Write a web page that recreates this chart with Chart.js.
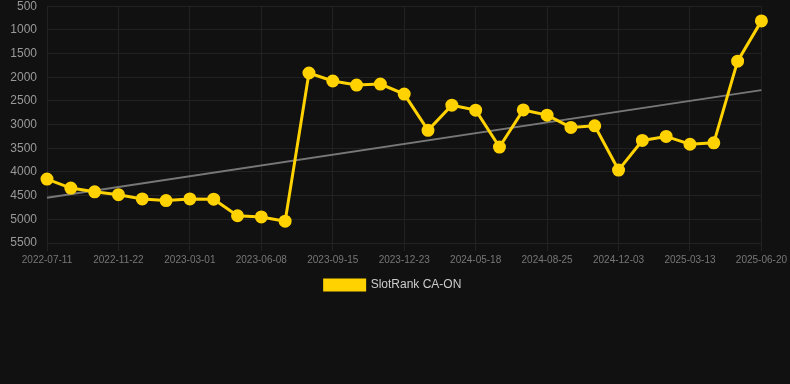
<!DOCTYPE html>
<html>
<head>
<meta charset="utf-8">
<script src="https://cdn.jsdelivr.net/npm/chart.js@4"></script>
<style>
  html, body { margin: 0; padding: 0; background: #111111; overflow: hidden; }
  #wrap { width: 790px; height: 312px; position: relative; top: -11px; }
</style>
</head>
<body>
<div id="wrap"><canvas id="c"></canvas></div>
<script>
const categories = [
  '2022-07-11','2022-08-24','2022-10-08','2022-11-22','2022-12-25','2023-01-27',
  '2023-03-01','2023-04-03','2023-05-06','2023-06-08','2023-07-11','2023-08-13',
  '2023-09-15','2023-10-18','2023-11-20','2023-12-23','2024-02-07','2024-04-02',
  '2024-05-18','2024-06-21','2024-07-23','2024-08-25','2024-09-27','2024-10-31',
  '2024-12-03','2025-01-05','2025-02-08','2025-03-13','2025-04-15','2025-05-18',
  '2025-06-20'
];
const rankValues = [
  4150, 4340, 4420, 4480, 4570, 4605, 4570, 4575, 4925, 4950, 5040,
  1910, 2080, 2165, 2145, 2355, 3120, 2590, 2695, 3475, 2690,
  2800, 3060, 3025, 3960, 3335, 3250, 3415, 3385, 1660, 810
];
const trendEnds = [4545, 2272];
const yTicks = [500, 1000, 1500, 2000, 2500, 3000, 3500, 4000, 4500, 5000, 5500];
const seriesName = 'SlotRank CA-ON';

const trendData = categories.map((_, i) =>
  i === 0 ? trendEnds[0] : (i === categories.length - 1 ? trendEnds[1] : null));

new Chart(document.getElementById('c'), {
  type: 'line',
  data: {
    labels: categories,
    datasets: [
      {
        label: seriesName,
        data: rankValues,
        borderColor: '#FFD200',
        backgroundColor: '#FFD200',
        borderWidth: 3,
        pointRadius: 5,
        pointHoverRadius: 6,
        pointBackgroundColor: '#FFD200',
        pointBorderColor: '#FFD200',
        tension: 0
      },
      {
        label: 'trend',
        data: trendData,
        borderColor: '#777777',
        borderWidth: 2,
        pointRadius: 0,
        spanGaps: true,
        tension: 0
      }
    ]
  },
  options: {
    responsive: true,
    maintainAspectRatio: false,
    animation: false,
    layout: { padding: { left: 0, right: 4, top: 0, bottom: 0 } },
    plugins: {
      legend: {
        position: 'bottom',
        labels: {
          color: '#cccccc',
          font: { family: 'Liberation Sans, Arial, sans-serif', size: 12 },
          boxWidth: 40,
          boxHeight: 10,
          filter: (item) => item.text !== 'trend'
        }
      },
      tooltip: { enabled: false }
    },
    scales: {
      x: {
        offset: false,
        grid: { color: '#222222', drawTicks: true, tickLength: 8 },
        border: { color: '#222222' },
        ticks: {
          autoSkip: false,
          maxRotation: 0,
          color: '#777777',
          font: { family: 'Liberation Sans, Arial, sans-serif', size: 10 },
          callback: function(value, index) {
            return index % 3 === 0 ? categories[index] : null;
          }
        }
      },
      y: {
        reverse: true,
        min: 500,
        max: 5500,
        afterBuildTicks: (axis) => { axis.ticks = yTicks.map(v => ({ value: v })); },
        afterFit: (axis) => { axis.width = 47; },
        grid: { color: '#222222', drawTicks: false },
        border: { color: '#222222' },
        ticks: {
          color: '#999999',
          padding: 10,
          font: { family: 'Liberation Sans, Arial, sans-serif', size: 12 },
          callback: (v) => String(v)
        }
      }
    }
  }
});
</script>
</body>
</html>
